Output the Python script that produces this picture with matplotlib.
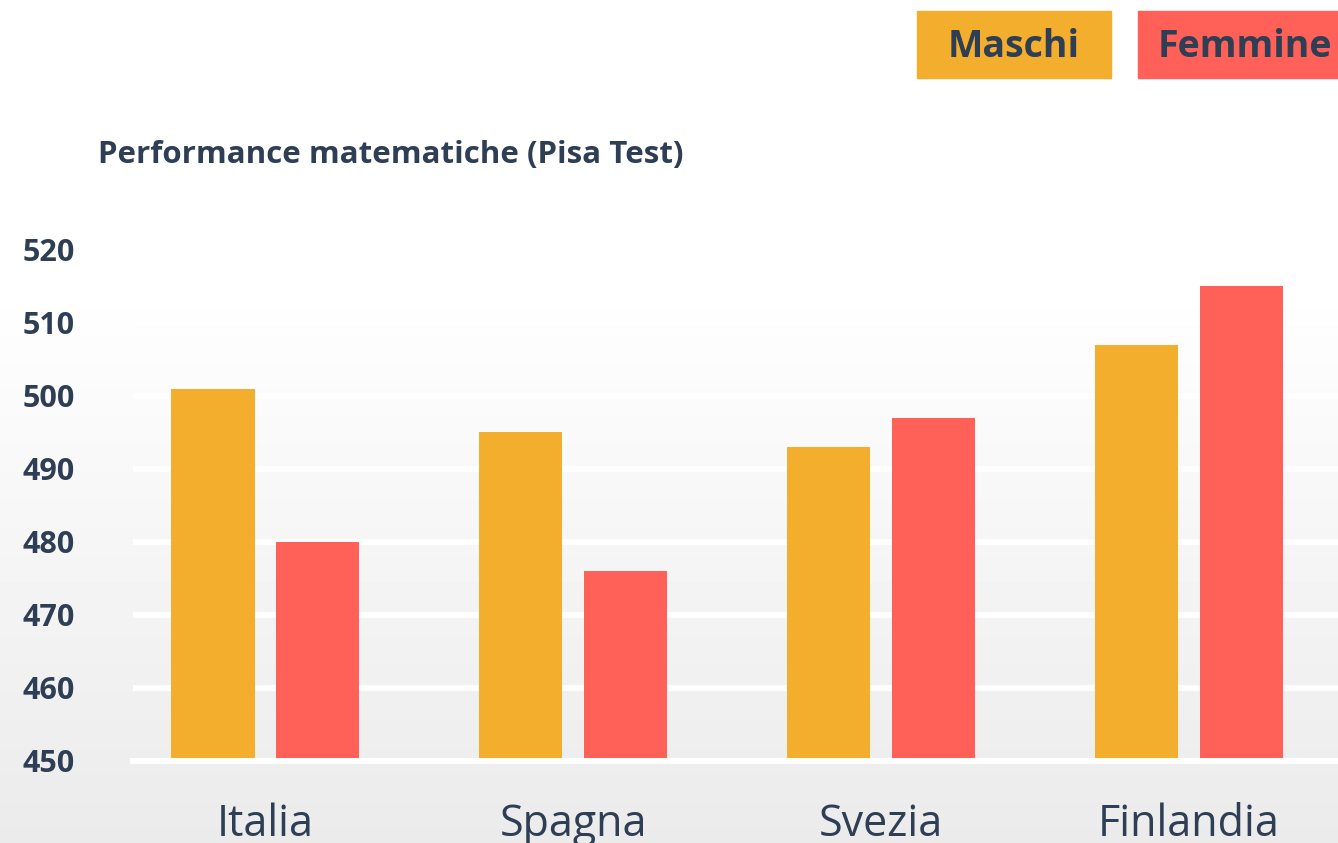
import matplotlib
matplotlib.use('Agg')
import matplotlib.pyplot as plt
import numpy as np
from matplotlib.patches import Rectangle

paesi = ['Italia', 'Spagna', 'Svezia', 'Finlandia']
maschi = [501, 495, 493, 507]
femmine = [480, 476, 497, 515]
yticks = [450, 460, 470, 480, 490, 500, 510, 520]

navy = '#2D3E55'
orange = '#F4AE2E'
red = '#FF6058'

plt.rcParams['font.family'] = ['Open Sans', 'DejaVu Sans']

fig = plt.figure(figsize=(13.38, 8.43), dpi=100)

# background gradient (white on top, light grey at the bottom)
bg = fig.add_axes([0, 0, 1, 1], zorder=-10)
rows = np.linspace(0, 1, 843)
shade = np.where(rows < 280 / 843, 1.0, 1.0 - 0.08 * (rows - 280 / 843) / (1 - 280 / 843))
bg.imshow(np.repeat(shade[:, None], 2, axis=1), cmap='gray', vmin=0, vmax=1,
          aspect='auto', extent=[0, 1, 0, 1], origin='upper')
bg.axis('off')

ax = fig.add_axes([133 / 1338, 82 / 843, 1 - 133 / 1338, 511 / 843])
ax.patch.set_alpha(0)

x = np.arange(len(paesi))
w = 0.27
ax.bar(x - 0.17, np.array(maschi) - 450, w, bottom=450, color=orange, zorder=2)
ax.bar(x + 0.17, np.array(femmine) - 450, w, bottom=450, color=red, zorder=2)

for t in yticks[1:]:
    ax.axhline(t, color='white', lw=4.3, zorder=1)
ax.axhline(450, color='white', lw=4.3, zorder=3, clip_on=False)

ax.set_xlim(-0.43, 3.484)
ax.set_ylim(450, 520)
ax.set_yticks(yticks)
ax.set_yticklabels([str(t) for t in yticks], fontsize=22, fontweight='bold', color=navy)
ax.set_xticks(x)
ax.set_xticklabels(paesi, fontsize=31, color=navy)
ax.tick_params(axis='y', length=0, pad=42)
ax.tick_params(axis='x', length=0, pad=30)
for s in ax.spines.values():
    s.set_visible(False)

fig.text(98 / 1338, 1 - 155 / 843, 'Performance matematiche (Pisa Test)',
         fontsize=22.5, fontweight='bold', color=navy, va='center', ha='left')

# legend boxes
fig.add_artist(Rectangle((917 / 1338, 1 - 78 / 843), 194 / 1338, 67 / 843,
                         transform=fig.transFigure, color=orange))
fig.add_artist(Rectangle((1138 / 1338, 1 - 78 / 843), 210 / 1338, 67 / 843,
                         transform=fig.transFigure, color=red))
fig.text(1014 / 1338, 1 - 47 / 843, 'Maschi', fontsize=27, fontweight='bold',
         color=navy, ha='center', va='center')
fig.text(1158 / 1338, 1 - 47 / 843, 'Femmine', fontsize=27, fontweight='bold',
         color=navy, ha='left', va='center')

fig.savefig('out.png', dpi=100)
